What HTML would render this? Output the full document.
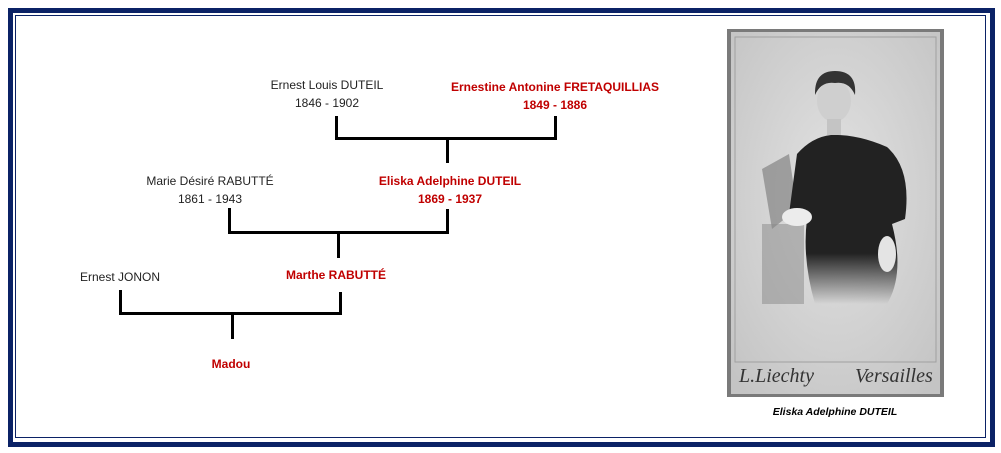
<!DOCTYPE html>
<html><head><meta charset="utf-8"><style>
body{margin:0;width:1001px;height:453px;background:#fff;position:relative;overflow:hidden;font-family:"Liberation Sans",Calibri,sans-serif;}
.o{position:absolute;left:8px;top:8px;width:977px;height:429px;border:5px solid #0b2266;}
.i{position:absolute;left:15px;top:15px;width:969px;height:421px;border:1.5px solid #0b2266;}
.t{position:absolute;font-size:12px;color:#222;text-align:center;line-height:18px;white-space:nowrap;transform:translateX(-50%);}
.r{color:#c00000;font-weight:bold;}
.l{position:absolute;background:#000;}
</style></head><body>
<div class="o"></div><div class="i"></div>

<div class="t" style="left:327px;top:76px">Ernest Louis DUTEIL<br>1846 - 1902</div>
<div class="t r" style="left:555px;top:78px">Ernestine Antonine FRETAQUILLIAS<br>1849 - 1886</div>
<div class="t" style="left:210px;top:172px">Marie Désiré RABUTTÉ<br>1861 - 1943</div>
<div class="t r" style="left:450px;top:172px">Eliska Adelphine DUTEIL<br>1869 - 1937</div>
<div class="t" style="left:120px;top:268px">Ernest JONON</div>
<div class="t r" style="left:336px;top:266px">Marthe RABUTTÉ</div>
<div class="t r" style="left:231px;top:355px">Madou</div>

<div class="l" style="left:335px;top:116px;width:3px;height:24px"></div>
<div class="l" style="left:554px;top:116px;width:3px;height:24px"></div>
<div class="l" style="left:335px;top:137px;width:222px;height:3px"></div>
<div class="l" style="left:446px;top:139px;width:3px;height:24px"></div>

<div class="l" style="left:228px;top:208px;width:3px;height:26px"></div>
<div class="l" style="left:446px;top:209px;width:3px;height:25px"></div>
<div class="l" style="left:228px;top:231px;width:221px;height:3px"></div>
<div class="l" style="left:337px;top:233px;width:3px;height:25px"></div>

<div class="l" style="left:119px;top:290px;width:3px;height:25px"></div>
<div class="l" style="left:339px;top:292px;width:3px;height:23px"></div>
<div class="l" style="left:119px;top:312px;width:223px;height:3px"></div>
<div class="l" style="left:231px;top:314px;width:3px;height:25px"></div>

<svg style="position:absolute;left:727px;top:29px" width="217" height="368" viewBox="0 0 217 368">
<defs><radialGradient id="bg" cx="50%" cy="45%" r="70%"><stop offset="0" stop-color="#e2e2e2"/><stop offset="1" stop-color="#c4c4c4"/></radialGradient>
<linearGradient id="fade" x1="0" y1="0" x2="0" y2="1"><stop offset="0.7" stop-color="#222"/><stop offset="1" stop-color="#222" stop-opacity="0"/></linearGradient></defs>
<rect width="217" height="368" fill="#7a7a7a"/>
<rect x="4" y="3" width="209" height="362" fill="url(#bg)"/>
<rect x="8" y="8" width="201" height="325" fill="none" stroke="#a0a0a0" stroke-width="1"/>
<path d="M35 140 L62 125 L70 180 L45 200 Z" fill="#777" opacity="0.6"/>
<rect x="35" y="195" width="42" height="80" fill="#888" opacity="0.5"/>
<path d="M70 125 Q85 108 104 106 Q130 105 160 118 Q185 140 178 190 L165 195 Q178 245 160 275 L88 275 Q75 230 80 190 L62 185 Z" fill="url(#fade)"/>
<ellipse cx="107" cy="72" rx="17" ry="21" fill="#cfcfcf"/>
<path d="M88 64 Q88 42 108 42 Q130 42 128 66 Q122 52 108 54 Q94 52 88 66Z" fill="#333"/>
<rect x="100" y="90" width="14" height="16" fill="#c4c4c4"/>
<ellipse cx="70" cy="188" rx="15" ry="9" fill="#ececec"/>
<ellipse cx="160" cy="225" rx="9" ry="18" fill="#e4e4e4"/>
<text x="12" y="353" font-family="Liberation Serif,serif" font-style="italic" font-size="20" fill="#333">L.Liechty</text>
<text x="128" y="353" font-family="Liberation Serif,serif" font-style="italic" font-size="20" fill="#333">Versailles</text>
</svg>
<div class="t" style="left:835px;top:403px;font-size:10.5px;font-weight:bold;font-style:italic;color:#000">Eliska Adelphine DUTEIL</div>
</body></html>
